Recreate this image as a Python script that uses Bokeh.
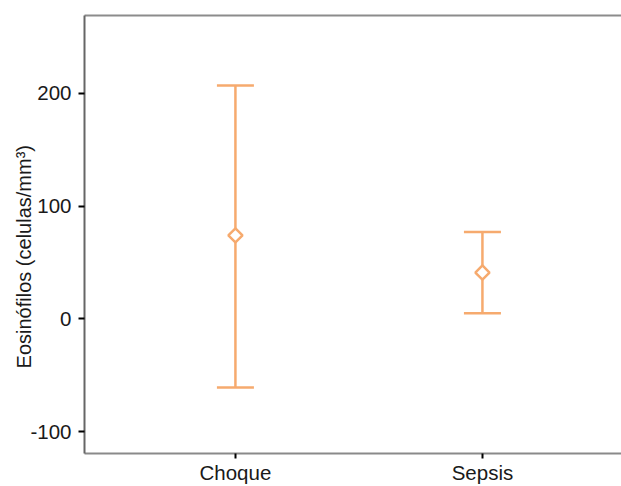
import math
from bokeh.plotting import figure
from bokeh.models import FixedTicker, LinearAxis, Range1d, ColumnDataSource, Whisker, TeeHead
from bokeh.embed import file_html
from bokeh.resources import INLINE

groups = ["Choque", "Sepsis"]
positions = [1, 2]
means = [74, 41]
upper = [207, 77]
lower = [-61, 5]
y_ticks = [-100, 0, 100, 200]
y_tick_labels = ["-100", "0", "100", "200"]

ORANGE = "#f6aa6e"
FONT = "Liberation Sans"

src = ColumnDataSource(dict(x=positions, mean=means, upper=upper, lower=lower))

p = figure(width=621, height=486, output_backend="svg", toolbar_location=None,
           x_range=Range1d(0.389, 2.563), y_range=Range1d(-119.5, 269),
           min_border_left=84, min_border_right=0, min_border_top=15, min_border_bottom=0)
p.background_fill_color = "white"
p.border_fill_color = "white"
p.outline_line_color = None
p.xgrid.visible = False
p.ygrid.visible = False

wh = Whisker(base="x", upper="upper", lower="lower", source=src,
             line_color=ORANGE, line_width=2.5, level="underlay",
             upper_head=TeeHead(size=37, line_color=ORANGE, line_width=2.5),
             lower_head=TeeHead(size=37, line_color=ORANGE, line_width=2.5))
p.add_layout(wh)

p.scatter("x", "mean", source=src, marker="square", angle=math.pi / 4, size=10,
          fill_color="white", line_color=ORANGE, line_width=2.5)

# x axis
xa = p.xaxis[0]
xa.ticker = FixedTicker(ticks=positions)
xa.major_label_overrides = {pos: g for pos, g in zip(positions, groups)}
xa.major_tick_out = 5
xa.major_tick_in = 0
xa.minor_tick_out = 0
xa.minor_tick_in = 0
xa.major_tick_line_color = "black"
xa.major_tick_line_width = 2
xa.axis_line_color = "#8a8a8a"
xa.axis_line_width = 2
xa.major_label_standoff = 2
xa.major_label_text_font = FONT
xa.major_label_text_font_size = "20.5px"
xa.major_label_text_color = "#1a1a1a"

# y axis
ya = p.yaxis[0]
ya.ticker = FixedTicker(ticks=y_ticks)
ya.major_label_overrides = {t: s for t, s in zip(y_ticks, y_tick_labels)}
ya.major_tick_out = 6
ya.major_tick_in = 0
ya.minor_tick_out = 0
ya.minor_tick_in = 0
ya.major_tick_line_color = "black"
ya.major_tick_line_width = 2
ya.axis_line_color = "#666666"
ya.axis_line_width = 2
ya.major_label_standoff = 7
ya.major_label_text_font = FONT
ya.major_label_text_font_size = "20.5px"
ya.major_label_text_color = "#1a1a1a"
ya.axis_label = "Eosinófilos (celulas/mm³)" + "\u00a0" * 8
ya.axis_label_text_font = FONT
ya.axis_label_text_font_size = "20px"
ya.axis_label_text_font_style = "normal"
ya.axis_label_text_color = "#1a1a1a"
ya.axis_label_standoff = -8

# top border line
top = LinearAxis(ticker=FixedTicker(ticks=[]), major_label_text_font_size="0px",
                 major_tick_out=0, major_tick_in=0, minor_tick_out=0, minor_tick_in=0,
                 axis_line_color="#8c8c8c", axis_line_width=2)
p.add_layout(top, "above")

open("out.html", "w").write(file_html(p, INLINE))
